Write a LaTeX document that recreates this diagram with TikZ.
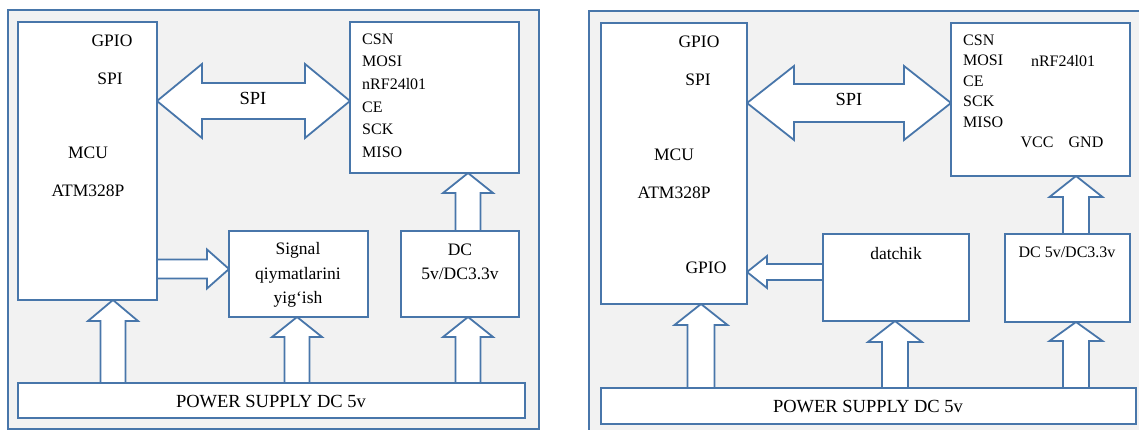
\documentclass[tikz,border=0pt]{standalone}
\usepackage{fontspec}
\setmainfont{Liberation Serif}
\usetikzlibrary{calc,backgrounds}
\definecolor{edgeblue}{RGB}{72,118,170}
\definecolor{panelgray}{RGB}{242,242,242}
\def\vblock(#1)(#2)(#3:#4:#5){\draw[blockarrow] ($(#1)+(-#5,0)$) -- ($(#2)+(-#5,#3)$) -- ($(#2)+(-#4,#3)$) -- (#2) -- ($(#2)+(#4,#3)$) -- ($(#2)+(#5,#3)$) -- ($(#1)+(#5,0)$);}
\def\hblock(#1)(#2)(#3:#4:#5){\draw[blockarrow] ($(#1)+(0,-#5)$) -- ($(#2)+(-#3,-#5)$) -- ($(#2)+(-#3,-#4)$) -- (#2) -- ($(#2)+(-#3,#4)$) -- ($(#2)+(-#3,#5)$) -- ($(#1)+(0,#5)$);}
\def\dblock(#1)(#2)(#3:#4:#5){\draw[blockarrow] (#1) -- ($(#1)+(#3,-#4)$) -- ($(#1)+(#3,-#5)$) -- ($(#2)+(-#3,-#5)$) -- ($(#2)+(-#3,-#4)$) -- (#2) -- ($(#2)+(-#3,#4)$) -- ($(#2)+(-#3,#5)$) -- ($(#1)+(#3,#5)$) -- ($(#1)+(#3,#4)$) -- cycle;}

\begin{document}
\begin{tikzpicture}[x=1pt,y=-1pt,
    box/.style={draw=edgeblue, fill=white, line width=1.8pt, inner sep=0pt, outer sep=0pt},
    blockarrow/.style={draw=edgeblue, fill=white, line width=1.8pt, line join=miter},
    frame/.style={draw=edgeblue, fill=panelgray, line width=1.8pt},
    lbl/.style={font=\fontsize{17.5}{24.5}\selectfont, inner sep=0pt, text=black},
    pin/.style={font=\fontsize{16}{19}\selectfont, inner sep=0pt, anchor=west, text=black}]
    %%%%% START %%%%%
    
    \useasboundingbox (0,0) rectangle (1139,430);
    
    % left panel boxes
    \node[box, minimum width=139pt, minimum height=278pt] (mcuL) at (87.5,161) {};
    \node[box, minimum width=169pt, minimum height=151pt] (nrfL) at (434.5,97.5) {};
    \node[box, minimum width=139pt, minimum height=86pt] (sigL) at (298.5,274) {};
    \node[box, minimum width=118pt, minimum height=86pt] (dcL) at (460,274) {};
    \node[box, minimum width=507pt, minimum height=35pt] (pwrL) at (271.5,400.5) {};
    
    % right panel boxes
    \node[box, minimum width=146pt, minimum height=281pt] (mcuR) at (674,163.5) {};
    \node[box, minimum width=179pt, minimum height=153pt] (nrfR) at (1040.5,99.5) {};
    \node[box, minimum width=146pt, minimum height=87pt] (datR) at (896,277.5) {};
    \node[box, minimum width=125pt, minimum height=88pt] (dcR) at (1067.5,278) {};
    \node[box, minimum width=535pt, minimum height=36pt] (pwrR) at (868.5,406) {};
    
    % arrow axes
    \coordinate (axL1) at (113,0);
    \coordinate (axL2) at (297,0);
    \coordinate (axL3) at (468,0);
    \coordinate (spiL) at (0,101);
    \coordinate (sigy) at (0,269);
    \coordinate (axR1) at (701,0);
    \coordinate (axR2) at (895,0);
    \coordinate (axR3) at (1076,0);
    \coordinate (spiR) at (0,103);
    \coordinate (daty) at (0,272);
    
    \begin{pgfonlayer}{background}
        \draw[frame] (8,10) rectangle (539,429);
        \draw[frame] (589,11) rectangle (1150,440);
        
        \dblock(mcuL.east |- spiL)(nrfL.west |- spiL)(45:37:18)
        \hblock(mcuL.east |- sigy)(sigL.west |- sigy)(22:19.5:9.5)
        \vblock(pwrL.north -| axL1)(mcuL.south -| axL1)(21:25:12.5)
        \vblock(pwrL.north -| axL2)(sigL.south -| axL2)(20:25:12.5)
        \vblock(pwrL.north -| axL3)(dcL.south -| axL3)(20:25:12.5)
        \vblock(dcL.north -| axL3)(nrfL.south -| axL3)(20:25:12.5)
        
        \dblock(mcuR.east |- spiR)(nrfR.west |- spiR)(47:37:19)
        \hblock(datR.west |- daty)(mcuR.east |- daty)(-20:16:8)
        \vblock(pwrR.north -| axR1)(mcuR.south -| axR1)(21:26.5:13.5)
        \vblock(pwrR.north -| axR2)(datR.south -| axR2)(21:27:13)
        \vblock(pwrR.north -| axR3)(dcR.south -| axR3)(19:26.5:13)
        \vblock(dcR.north -| axR3)(nrfR.south -| axR3)(21:26.5:13)
    \end{pgfonlayer}
    
    % left panel texts
    \node[lbl] (gpioL) at (112,41) {GPIO};
    \node[lbl] (spiTL) at (110,79) {SPI};
    \node[lbl] (mcuTL) at (88,153) {MCU};
    \node[lbl] (atmL) at (88,191) {ATM328P};
    \node[lbl, font=\fontsize{18.5}{22}\selectfont] (busL) at (253,98) {SPI};
    \foreach \p [count=\i] in {CSN,MOSI,nRF24l01,CE,SCK,MISO}
        \node[pin] (pinL\i) at (362,{16.4+22.6*\i}) {\p};
    \node[lbl, align=center] (sigT) at (298,275) {Signal\\qiymatlarini\\yig‘ish};
    \node[lbl, align=center] (dcTL) at (460,262) {DC\\5v/DC3.3v};
    \node[lbl, font=\fontsize{18.5}{22}\selectfont] (pwrTL) at (271,402) {POWER SUPPLY DC 5v};
    
    % right panel texts
    \node[lbl] (gpioR) at (699,42) {GPIO};
    \node[lbl] (spiTR) at (698,80) {SPI};
    \node[lbl] (mcuTR) at (674,155) {MCU};
    \node[lbl] (atmR) at (674,193) {ATM328P};
    \node[lbl] (gpioR2) at (706,268) {GPIO};
    \node[lbl, font=\fontsize{18.5}{22}\selectfont] (busR) at (849,99) {SPI};
    \foreach \p [count=\i] in {CSN,MOSI,CE,SCK,MISO}
        \node[pin] (pinR\i) at (963,{19.5+20.5*\i}) {\p};
    \node[pin, anchor=center] (nrfTR) at (1063,61) {nRF24l01};
    \node[pin, anchor=center] (vccR) at (1037,142) {VCC};
    \node[pin, anchor=center] (gndR) at (1086,142) {GND};
    \node[lbl] (datT) at (896,254) {datchik};
    \node[pin, anchor=center] (dcTR) at (1067,252) {DC 5v/DC3.3v};
    \node[lbl, font=\fontsize{18.5}{22}\selectfont] (pwrTR) at (868,407) {POWER SUPPLY DC 5v};
    
    %%%%% END %%%%%
\end{tikzpicture}
\end{document}
